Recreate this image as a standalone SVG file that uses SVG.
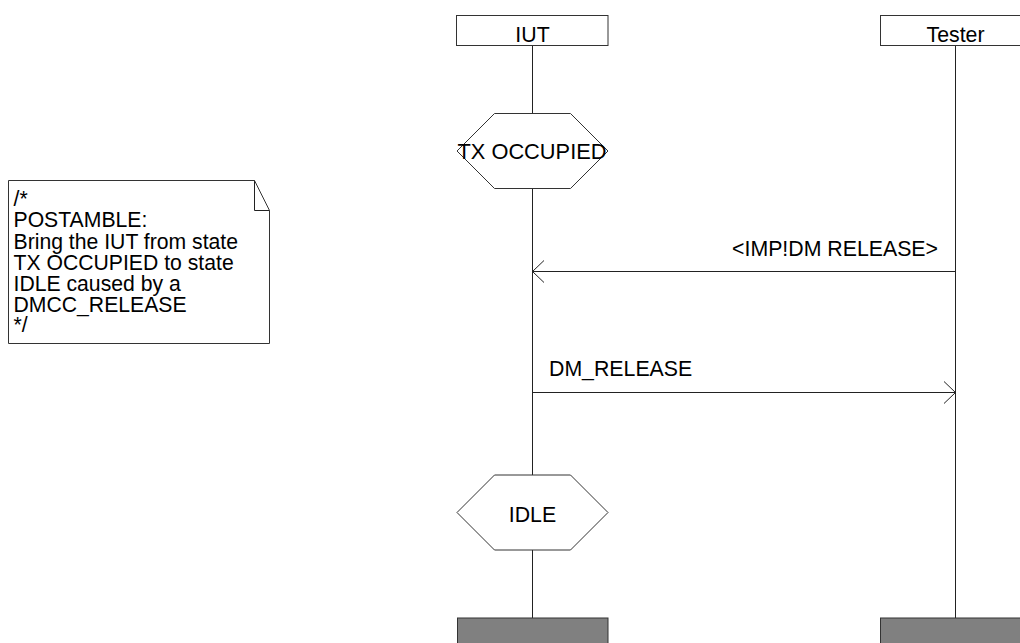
<svg xmlns="http://www.w3.org/2000/svg" width="1020" height="643" viewBox="0 0 1020 643">
<style>
.t{font-family:"Liberation Sans",Arial,sans-serif;font-size:21.3px;fill:#000}
.n{font-family:"Liberation Sans",Arial,sans-serif;font-size:21.2px;fill:#000}
.box{fill:#fff;stroke:#333;stroke-width:1}
.end{fill:#808080;stroke:#333;stroke-width:1}
.ln{stroke:#222;stroke-width:1;fill:none}
</style>
<defs>
<marker id="ah" viewBox="0 0 12 24" refX="11.5" refY="12" markerWidth="12" markerHeight="24" markerUnits="userSpaceOnUse" orient="auto">
<path d="M0,1 L11.5,12 L0,23" fill="none" stroke="#222" stroke-width="1"/>
</marker>
</defs>
<rect width="1020" height="643" fill="#fff"/>
<g id="note">
<path class="box" d="M8.5,180.5 H254.5 L269.5,210.5 V343.5 H8.5 Z"/>
<path class="ln" d="M254.5,180.5 V210.5 H269.5"/>
<text class="n" x="13.5" y="206">/*</text>
<text class="n" x="13.5" y="227">POSTAMBLE:</text>
<text class="n" x="13.5" y="248.5">Bring the IUT from state</text>
<text class="n" x="13.5" y="270">TX OCCUPIED to state</text>
<text class="n" x="13.5" y="291">IDLE caused by a</text>
<text class="n" x="13.5" y="312">DMCC_RELEASE</text>
<text class="n" x="13.5" y="332">*/</text>
</g>
<g id="lifelines">
<path class="ln" d="M532.5,45 V113 M532.5,189 V475 M532.5,550 V618"/>
<path class="ln" d="M955.5,45 V618"/>
</g>
<g id="IUT">
<rect class="box" x="456.5" y="15.5" width="151.5" height="30"/>
<text class="t" x="532.5" y="42" text-anchor="middle">IUT</text>
</g>
<g id="Tester">
<rect class="box" x="880.5" y="15.5" width="151.5" height="30"/>
<text class="t" x="955.5" y="42" text-anchor="middle">Tester</text>
</g>
<g id="state_tx_occupied">
<path class="box" d="M494.5,113.5 H570.5 L608,151 L570.5,188.5 H494.5 L457,151 Z"/>
<text class="t" x="532" y="159" text-anchor="middle" style="font-size:21.8px">TX OCCUPIED</text>
</g>
<g id="state_idle">
<path class="box" d="M494.5,475 H570.5 L608,512.5 L570.5,550 H494.5 L457,512.5 Z"/>
<text class="t" x="532.5" y="522" text-anchor="middle">IDLE</text>
</g>
<g id="connectors">
<line class="ln" x1="955.5" y1="271.5" x2="532.5" y2="271.5" marker-end="url(#ah)"/>
<text class="t" x="938" y="256" text-anchor="end">&lt;IMP!DM RELEASE&gt;</text>
<line class="ln" x1="532.5" y1="392.5" x2="955.5" y2="392.5" marker-end="url(#ah)"/>
<text class="t" x="549" y="376">DM_RELEASE</text>
</g>
<g id="IUT_end">
<rect class="end" x="457.5" y="618" width="150.5" height="30"/>
</g>
<g id="Tester_end">
<rect class="end" x="880.5" y="618" width="151.5" height="30"/>
</g>
</svg>
